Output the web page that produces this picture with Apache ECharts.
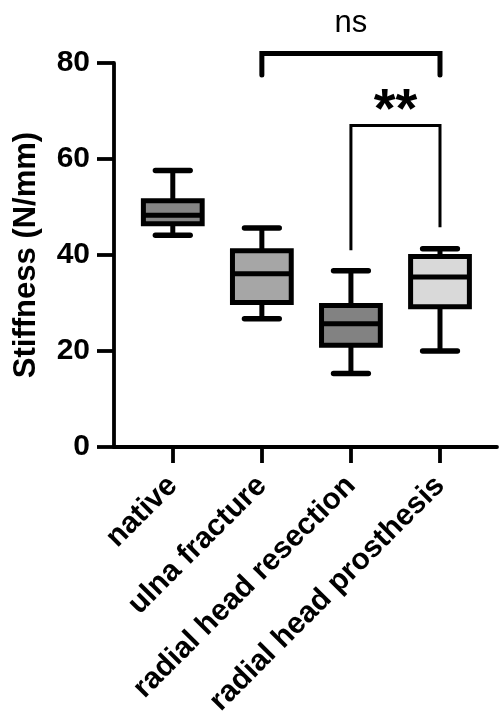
<!DOCTYPE html>
<html><head><meta charset="utf-8">
<script src="https://cdn.jsdelivr.net/npm/echarts@6/dist/echarts.min.js"></script>
<style>html,body{margin:0;padding:0;background:#fff}#c{width:501px;height:720px}</style>
</head><body><div id="c"></div>
<script>
const categories = ['native', 'ulna fracture', 'radial head resection', 'radial head prosthesis'];
const minValues = [44.1, 26.7, 15.3, 20.0];
const q1Values = [46.5, 30.1, 21.2, 29.2];
const medianValues = [48.3, 36.1, 25.7, 35.4];
const q3Values = [51.3, 40.9, 29.5, 39.7];
const maxValues = [57.6, 45.6, 36.7, 41.3];
const yTickValues = [0, 20, 40, 60, 80];
// significance brackets (category index, value units)
const bracketFrom = [1, 2];
const bracketTo = [3, 3];
const bracketLevel = [82, 67];
const bracketFromEnd = [77.5, 41];
const bracketToEnd = [77.5, 45.8];
const bracketText = ['ns', '**'];

const fills = ['#858585', '#a6a6a6', '#828282', '#d9d9d9'];
const FONT = '"Liberation Sans", Arial, sans-serif';

const boxData = categories.map((c, i) => [i, minValues[i], q1Values[i], medianValues[i], q3Values[i], maxValues[i]]);
const bracketData = bracketText.map((t, i) => [bracketFrom[i], bracketTo[i], bracketLevel[i], bracketFromEnd[i], bracketToEnd[i], i]);

function renderBox(params, api) {
  const i = api.value(0);
  const unit = api.size([1, 0])[0];
  const half = unit * 0.33, capHalf = unit * 0.195;
  const p = api.coord([i, api.value(1)]);
  const cx = p[0], yMin = p[1];
  const yQ1 = api.coord([i, api.value(2)])[1];
  const yMed = api.coord([i, api.value(3)])[1];
  const yQ3 = api.coord([i, api.value(4)])[1];
  const yMax = api.coord([i, api.value(5)])[1];
  const k = { stroke: '#000', lineWidth: 5 };
  const cap = { stroke: '#000', lineWidth: 5.5, lineCap: 'round' };
  return { type: 'group', children: [
    { type: 'line', shape: { x1: cx, y1: yMax, x2: cx, y2: yQ3 }, style: k },
    { type: 'line', shape: { x1: cx, y1: yQ1, x2: cx, y2: yMin }, style: k },
    { type: 'line', shape: { x1: cx - capHalf, y1: yMax, x2: cx + capHalf, y2: yMax }, style: cap },
    { type: 'line', shape: { x1: cx - capHalf, y1: yMin, x2: cx + capHalf, y2: yMin }, style: cap },
    { type: 'rect', shape: { x: cx - half, y: yQ3, width: 2 * half, height: yQ1 - yQ3 }, style: { fill: fills[i], stroke: '#000', lineWidth: 5 } },
    { type: 'line', shape: { x1: cx - half, y1: yMed, x2: cx + half, y2: yMed }, style: k }
  ]};
}

function renderBracket(params, api) {
  const idx = api.value(5);
  const a = api.coord([api.value(0), api.value(2)]);
  const b = api.coord([api.value(1), api.value(2)]);
  const aEnd = api.coord([api.value(0), api.value(3)]);
  const bEnd = api.coord([api.value(1), api.value(4)]);
  const isNs = bracketText[idx] === 'ns';
  const lw = isNs ? 5 : 3;
  const txt = bracketText[idx];
  return { type: 'group', children: [
    { type: 'polyline', shape: { points: [[aEnd[0], aEnd[1]], [a[0], a[1]], [b[0], b[1]], [bEnd[0], bEnd[1]]] },
      style: { stroke: '#000', lineWidth: lw, fill: null, lineJoin: 'miter', lineCap: isNs ? 'round' : 'butt' } },
    { type: 'text', x: (a[0] + b[0]) / 2, y: a[1] - (isNs ? 30 : 14),
      style: { text: txt, fill: '#000', font: (isNs ? 'normal 31px ' : 'bold 56px ') + FONT, textAlign: 'center', textVerticalAlign: 'middle' } }
  ]};
}

const chart = echarts.init(document.getElementById('c'), null, { renderer: 'canvas' });
chart.setOption({
  animation: false,
  backgroundColor: '#fff',
  grid: { left: 114, right: 4, top: 63, bottom: 273, containLabel: false },
  xAxis: {
    type: 'value', min: -0.66, max: 3.64,
    splitLine: { show: false },
    axisLine: { show: true, onZero: false, lineStyle: { color: '#000', width: 3.8 } },
    axisTick: { show: true, customValues: [0, 1, 2, 3], length: 16, lineStyle: { color: '#000', width: 3.8 } },
    axisLabel: { customValues: [0, 1, 2, 3], formatter: v => categories[Math.round(v)], rotate: 45, margin: 34,
      fontSize: 30, fontWeight: 'bold', color: '#000', fontFamily: FONT }
  },
  yAxis: {
    type: 'value', min: 0, max: 80, interval: 20,
    name: 'Stiffness (N/mm)', nameLocation: 'middle', nameGap: 72,
    nameTextStyle: { fontSize: 31, fontWeight: 'bold', color: '#000', fontFamily: FONT },
    splitLine: { show: false },
    axisLine: { show: true, onZero: false, lineStyle: { color: '#000', width: 3.8 } },
    axisTick: { show: true, length: 17, lineStyle: { color: '#000', width: 3.8 } },
    axisLabel: { margin: 24, fontSize: 30, fontWeight: 'bold', color: '#000', fontFamily: FONT,
      formatter: v => (yTickValues.indexOf(v) >= 0 ? String(v) : '') }
  },
  series: [
    { type: 'custom', renderItem: renderBox, data: boxData, clip: false, encode: { x: 0, y: [1, 2, 3, 4, 5] } },
    { type: 'custom', renderItem: renderBracket, data: bracketData, clip: false, encode: { x: [0, 1], y: [2, 3, 4] } }
  ]
});
</script></body></html>
